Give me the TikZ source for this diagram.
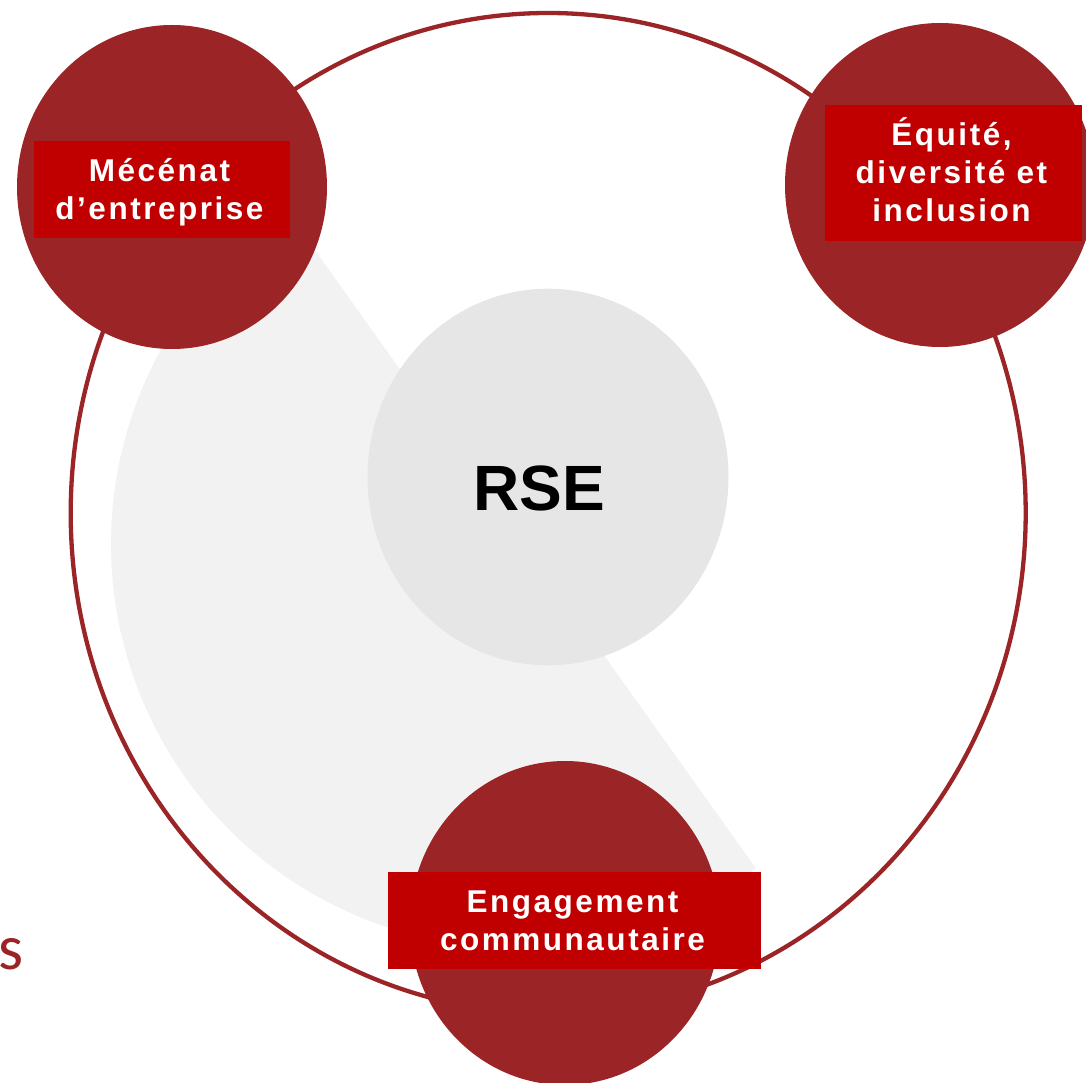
\documentclass[tikz,border=0pt]{standalone}
\usepackage{fontspec}
\setmainfont{Liberation Sans}
\newfontfamily\boxfont{Liberation Sans}[LetterSpace=8]
\newfontfamily\cfont{Carlito}
\definecolor{circred}{RGB}{155,36,39}
\definecolor{boxred}{RGB}{192,0,0}
\definecolor{segfill}{RGB}{242,242,242}
\definecolor{centerfill}{RGB}{230,230,230}
\begin{document}
\begin{tikzpicture}[x=1pt,y=-1pt,
  redcircle/.style={fill=circred},
  labelbox/.style={fill=boxred, draw=none, inner sep=0pt, anchor=north west},
  labeltext/.style={text=white, font=\boxfont\bfseries\fontsize{31.5}{36}\selectfont, anchor=base, inner sep=0pt},
]
\useasboundingbox (0,0) rectangle (1086,1083);
% light grey segment
\fill[segfill] (515,544) ++(53.4:404) arc[start angle=53.4,end angle=235.6,radius=404] -- cycle;
% central circle
\fill[centerfill] (548,477) ellipse [x radius=180.5, y radius=188.3];
\node[font=\bfseries\fontsize{64}{70}\selectfont, anchor=base, inner sep=0pt] (rse) at (539,510) {RSE};
% ring
\draw[circred, line width=4.3pt] (548.2,513) ellipse [x radius=477.5, y radius=500];
% red circles
\fill[redcircle] (172,187) ellipse [x radius=155, y radius=162];
\fill[redcircle] (940,185) ellipse [x radius=155, y radius=162];
\fill[redcircle] (565,923) ellipse [x radius=155, y radius=162];
% boxes
\node[labelbox, minimum width=256pt, minimum height=97pt] (b1) at (34,141) {};
\node[labelbox, minimum width=257pt, minimum height=136pt] (b2) at (825,105) {};
\node[labelbox, minimum width=373pt, minimum height=97pt] (b3) at (388,872) {};
% texts
\node[labeltext] (t1a) at (159.5,181.7) {Mécénat};
\node[labeltext] (t1b) at (159.5,220) {d’entreprise};
\node[labeltext] (t2a) at (951.5,145.7) {Équité,};
\node[labeltext] (t2b) at (951.5,183.3) {diversité et};
\node[labeltext] (t2c) at (951.5,221.7) {inclusion};
\node[labeltext] (t3a) at (572.5,912.7) {Engagement};
\node[labeltext] (t3b) at (572.5,950) {communautaire};
% cut-off text at left
\node[font=\cfont\fontsize{64}{70}\selectfont, text=circred, anchor=base west, inner sep=0pt] (s) at (-2,969) {s};
\end{tikzpicture}
\end{document}
